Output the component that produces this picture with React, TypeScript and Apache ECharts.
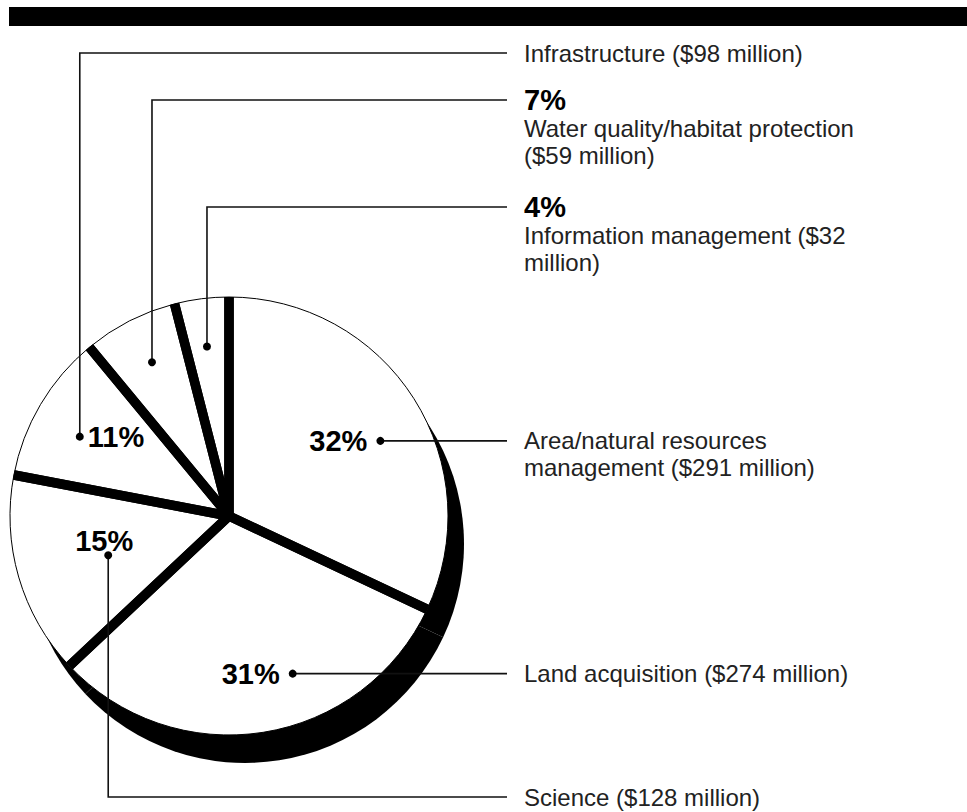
import React, { useEffect, useRef } from "react";
import * as echarts from "echarts";

// Budget shares by program area
const categories = [
  "Area/natural resources management",
  "Land acquisition",
  "Science",
  "Infrastructure",
  "Water quality/habitat protection",
  "Information management",
];
const sharePercent = [32, 31, 15, 11, 7, 4];
const millionsOfDollars = [291, 274, 128, 98, 59, 32];

// Layout
const WIDTH = 967;
const HEIGHT = 812;
const CENTER: [number, number] = [229, 516];
const RADIUS = 219;
const BAND_WIDTH = 9.5;
const SHADOW_SHIFT: [number, number] = [16, 28];
const TEXT_X = 524;
const LEADER_END_X = 507;
const LABEL_SIZE = 24;
const LINE_HEIGHT = 27;
const PCT_SIZE = 29;
const FONT = '"Liberation Sans", Arial, Helvetica, sans-serif';

type PctSide = "left" | "right" | "above" | "column";
interface Callout {
  angle: number; // degrees clockwise from 12 o'clock
  dist: number; // distance of the dot from the pie centre
  row: number | null; // y of the text row, null = level with the dot
  pct: PctSide;
}
const callouts: Callout[] = [
  { angle: 63.6, dist: 169, row: null, pct: "left" },
  { angle: 158, dist: 170, row: null, pct: "left" },
  { angle: 252, dist: 127, row: 797, pct: "above" },
  { angle: 298, dist: 169, row: 53, pct: "right" },
  { angle: 333.4, dist: 172, row: 100, pct: "column" },
  { angle: 352.6, dist: 171, row: 207, pct: "column" },
];

function polar(angleDeg: number, dist: number): [number, number] {
  const a = (angleDeg * Math.PI) / 180;
  return [CENTER[0] + dist * Math.sin(a), CENTER[1] - dist * Math.cos(a)];
}

export default function App() {
  const ref = useRef<HTMLDivElement>(null);

  useEffect(() => {
    if (!ref.current) return;
    const chart = echarts.init(ref.current, null, { renderer: "svg" });
    const total = sharePercent.reduce((s, v) => s + v, 0);

    const pieData = categories.map((name, i) => ({ name, value: sharePercent[i] }));

    // Thick separators: each slice's straight edges are stroked, its arc is skipped
    const bandData = categories.map((name, i) => {
      const arcLen = (sharePercent[i] / total) * 2 * Math.PI * RADIUS;
      return {
        name,
        value: sharePercent[i],
        itemStyle: {
          borderType: [2 * RADIUS, arcLen],
          borderDashOffset: 2 * RADIUS,
        },
      };
    });

    const pieBase = {
      type: "pie",
      radius: RADIUS,
      startAngle: 90,
      clockwise: true,
      silent: true,
      avoidLabelOverlap: false,
      label: { show: false },
      labelLine: { show: false },
      emphasis: { disabled: true },
    };

    const graphics: any[] = [
      {
        type: "rect",
        shape: { x: 9, y: 7, width: WIDTH - 9, height: 19 },
        style: { fill: "#000" },
      },
    ];

    callouts.forEach((c, i) => {
      const [dx, dy] = polar(c.angle, c.dist);
      const row = c.row == null ? dy : c.row;
      const points =
        c.row == null
          ? [
              [dx, dy],
              [LEADER_END_X, dy],
            ]
          : [
              [dx, dy],
              [dx, row],
              [LEADER_END_X, row],
            ];
      graphics.push({
        type: "polyline",
        shape: { points },
        style: { stroke: "#111", lineWidth: 1.6, fill: null },
        z: 10,
      });
      graphics.push({
        type: "circle",
        shape: { cx: dx, cy: dy, r: 4 },
        style: { fill: "#000" },
        z: 11,
      });

      let px = TEXT_X;
      let py = row;
      let align = "left";
      if (c.pct === "left") {
        px = dx - 13;
        py = dy;
        align = "right";
      } else if (c.pct === "right") {
        px = dx + 8;
        py = dy;
      } else if (c.pct === "above") {
        px = dx - 4;
        py = dy - 14;
        align = "center";
      }
      graphics.push({
        type: "text",
        x: px,
        y: py,
        z: 12,
        style: {
          text: `${sharePercent[i]}%`,
          font: `bold ${PCT_SIZE}px ${FONT}`,
          fill: "#000",
          align,
          textAlign: align,
          verticalAlign: "middle",
          textVerticalAlign: "middle",
        },
      });

      const firstLine = c.pct === "column" ? row + 28 : row;
      graphics.push({
        type: "text",
        x: TEXT_X,
        y: firstLine - LINE_HEIGHT / 2,
        z: 12,
        style: {
          text: `${categories[i]} ($${millionsOfDollars[i]} million)`,
          font: `${LABEL_SIZE}px ${FONT}`,
          fill: "#222",
          width: 350,
          overflow: "break",
          lineHeight: LINE_HEIGHT,
          align: "left",
          textAlign: "left",
          verticalAlign: "top",
          textVerticalAlign: "top",
        },
      });
    });

    chart.setOption({
      animation: false,
      backgroundColor: "#fff",
      series: [
        {
          ...pieBase,
          name: "shadow",
          center: [CENTER[0] + SHADOW_SHIFT[0], CENTER[1] + SHADOW_SHIFT[1]],
          data: pieData,
          itemStyle: { color: "#000" },
          z: 1,
        },
        {
          ...pieBase,
          name: "face",
          center: CENTER,
          data: pieData,
          itemStyle: { color: "#fff", borderColor: "#000", borderWidth: 1 },
          z: 2,
        },
        {
          ...pieBase,
          name: "separators",
          center: CENTER,
          data: bandData,
          itemStyle: {
            color: "transparent",
            borderColor: "#000",
            borderWidth: BAND_WIDTH,
            borderJoin: "round",
          },
          z: 3,
        },
      ],
      graphic: { elements: graphics },
    });

    return () => chart.dispose();
  }, []);

  return (
    <div
      ref={ref}
      style={{ position: "fixed", left: 0, top: 0, width: WIDTH, height: HEIGHT, background: "#fff" }}
    />
  );
}
